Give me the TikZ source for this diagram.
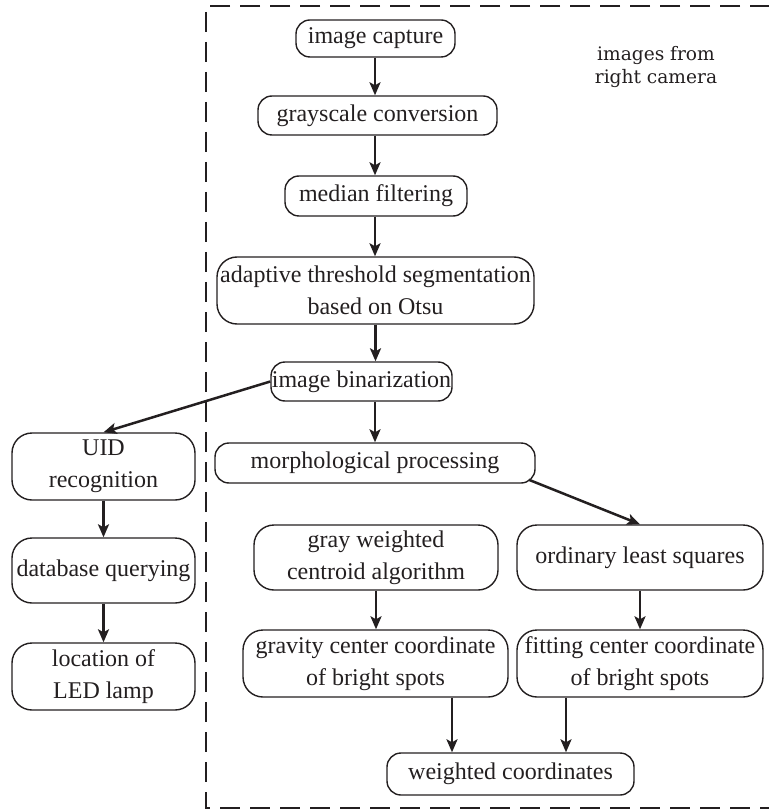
\documentclass[tikz,border=0pt]{standalone}
\usepackage{fontspec}
\setmainfont{Liberation Serif}
\newfontfamily\notefont{DejaVu Serif}
\usetikzlibrary{arrows.meta,calc}
\definecolor{ink}{HTML}{231F20}
\begin{document}
\begin{tikzpicture}[x=0.5pt,y=-0.5pt,
  box/.style={draw=ink, line width=0.7pt, rounded corners=7pt, inner sep=0pt,
    align=center, text=ink, font=\fontsize{12}{16}\selectfont},
  tall/.style={box, rounded corners=10pt},
  arr/.style={draw=ink, line width=1.25pt, -{Stealth[length=6.5pt,width=5.5pt,inset=1.5pt]}},
  frame/.style={draw=ink, line width=0.75pt, dash pattern=on 10pt off 5pt}]
\useasboundingbox (0,0) rectangle (768,812);
\draw[frame] (770,6) -- (206,6) -- (206,808) -- (770,808);

\node[box, minimum width=79.5pt, minimum height=18.5pt] (cap) at (375.5,38.5) {image capture};
\node[box, minimum width=119.5pt, minimum height=19.5pt] (gray) at (377.5,115.5) {grayscale conversion};
\node[box, minimum width=91pt, minimum height=20pt] (med) at (376,196) {median filtering};
\node[tall, minimum width=158.5pt, minimum height=33.5pt] (adapt) at (375.5,290.5) {adaptive threshold segmentation\\based on Otsu};
\node[box, minimum width=90.5pt, minimum height=19.5pt] (bin) at (361.5,381.5) {image binarization};
\node[box, minimum width=160pt, minimum height=20pt] (morph) at (375,463) {morphological processing};
\node[tall, minimum width=122pt, minimum height=32.5pt] (gwc) at (376,557.5) {gray weighted\\centroid algorithm};
\node[tall, minimum width=123pt, minimum height=32.5pt] (ols) at (640,557.5) {ordinary least squares};
\node[tall, minimum width=132.5pt, minimum height=33.5pt] (grav) at (375.5,663.5) {gravity center coordinate\\of bright spots};
\node[tall, minimum width=123pt, minimum height=33.5pt] (fit) at (640,663.5) {fitting center coordinate\\of bright spots};
\node[box, minimum width=123.5pt, minimum height=21pt] (wc) at (510.5,774) {weighted coordinates};
\node[tall, minimum width=91.5pt, minimum height=33.5pt] (uid) at (103.5,466.5) {UID\\recognition};
\node[tall, minimum width=91.5pt, minimum height=32.5pt] (db) at (103.5,570.5) {database querying};
\node[tall, minimum width=91.5pt, minimum height=33.5pt] (led) at (103.5,676.5) {location of\\LED lamp};

\node[align=center, text=ink, font=\notefont\fontsize{9.3}{11.5}\selectfont, inner sep=0pt] (note) at (656,67) {images from\\right camera};

\draw[arr] ([xshift=-0.25pt]cap.south) -- ([xshift=-0.25pt]cap.south |- gray.north);
\draw[arr] ([xshift=-1.25pt]gray.south) -- ([xshift=-1.25pt]gray.south |- med.north);
\draw[arr] ([xshift=-0.5pt]med.south) -- ([xshift=-0.5pt]med.south |- adapt.north);
\draw[arr] (adapt.south) -- (adapt.south |- bin.north);
\draw[arr] (morph.north |- bin.south) -- (morph.north);
\draw[arr] (bin.west) -- (uid.north);
\draw[arr] (uid.south) -- (db.north);
\draw[arr] (db.south) -- (led.north);
\draw[arr] (gwc.south) -- (gwc.south |- grav.north);
\draw[arr] ([xshift=-3.5pt,yshift=2pt]morph.south east) -- (ols.north);
\draw[arr] (ols.south) -- (fit.north);
\draw[arr] ([xshift=38.25pt]grav.south) -- ([xshift=38.25pt]grav.south |- wc.north);
\draw[arr] ([xshift=-37pt]fit.south) -- ([xshift=-37pt]fit.south |- wc.north);
\end{tikzpicture}
\end{document}
